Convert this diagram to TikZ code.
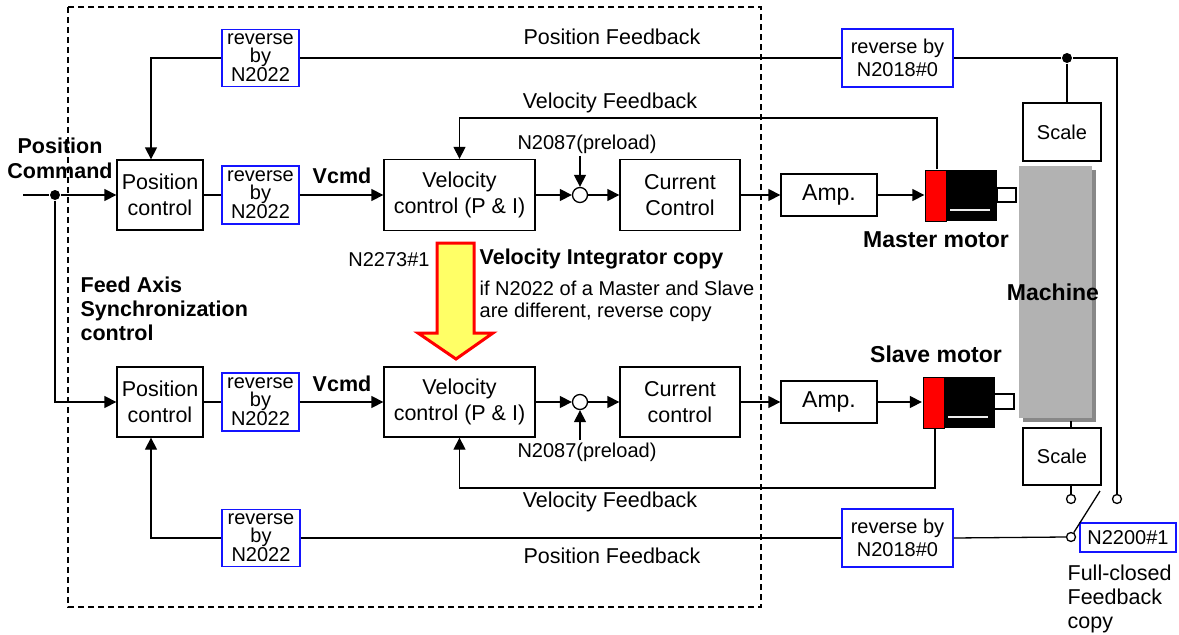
\documentclass[tikz,border=0pt]{standalone}
\usepackage{fontspec}
\setmainfont{Liberation Sans}
\usetikzlibrary{arrows.meta}
\newcommand\dgmain{\fontsize{21.5pt}{26pt}\selectfont}
\newcommand\dgblue{\fontsize{20pt}{18pt}\selectfont}
\newcommand\dgbluew{\fontsize{20pt}{23pt}\selectfont}
\newcommand\dgnote{\fontsize{20pt}{22pt}\selectfont}
\newcommand\dgbold{\fontsize{21.5pt}{24pt}\selectfont\bfseries}
\newcommand\dgbig{\fontsize{23pt}{26pt}\selectfont\bfseries}
\definecolor{boxblue}{RGB}{20,20,255}
\definecolor{machgray}{RGB}{178,178,178}
\definecolor{shadegray}{RGB}{136,136,136}
\definecolor{copyyellow}{RGB}{255,255,102}
\begin{document}
\begin{tikzpicture}[x=1pt,y=-1pt,line width=1.3pt,
  blk/.style={draw, line width=1.3pt, inner sep=0pt, align=center, font=\dgmain, fill=white},
  rev/.style={draw=boxblue, line width=1.5pt, inner sep=0pt, align=center, font=\dgblue, fill=white},
  revw/.style={rev, font=\dgbluew},
  lbl/.style={inner sep=0pt, font=\dgmain},
  arr/.style={-{Triangle[length=12pt,width=12pt]}},
  port/.style={circle, draw, fill=white, line width=1.3pt, minimum size=9pt, inner sep=0pt},
  junction/.style={circle, fill, minimum size=10pt, inner sep=0pt},
  motorbody/.style={fill=black, minimum width=72pt, minimum height=51pt, inner sep=0pt}
]
\useasboundingbox (0,0) rectangle (1179,635);

% controller boundary
\draw[line width=2pt, dash pattern=on 6pt off 4pt] (68,7) rectangle (761,607);

% machine with shadow
\fill[shadegray] (1023,170) rectangle (1096,422);
\fill[machgray] (1019,166) rectangle (1092,418);
\node[font=\dgbig, inner sep=0pt] (mach) at (1053,292) {Machine};

% ---- master axis (upper row) ----
\node[blk, minimum width=86pt, minimum height=70pt] (posU) at (160,195) {Position\\control};
\node[rev, minimum width=77pt, minimum height=58pt] (revU2) at (260.5,195) {reverse\\by\\N2022};
\node[blk, minimum width=151pt, minimum height=71pt] (velU) at (459.5,195) {Velocity\\control (P \& I)};
\node[port, minimum size=15pt] (sumU) at (580,195) {};
\node[blk, minimum width=120pt, minimum height=71pt] (curU) at (680,195) {Current\\Control};
\node[blk, minimum width=96pt, minimum height=42pt, font=\fontsize{23pt}{26pt}\selectfont] (ampU) at (829,195) {Amp.};
\node[motorbody] (motU) at (961,195.5) {};
\draw[line width=1pt, fill=red] (925,170) rectangle (946,221);
\draw[fill=white] (997,188) rectangle (1016,202);
\draw[white!85!gray, line width=1.2pt] (950,210) -- (990,210);
\node[font=\dgbig, inner sep=0pt] (mlbl) at (936,240) {Master motor};

% ---- slave axis (lower row) ----
\node[blk, minimum width=86pt, minimum height=70pt] (posL) at (160,402) {Position\\control};
\node[rev, minimum width=77pt, minimum height=58pt] (revL2) at (260.5,402) {reverse\\by\\N2022};
\node[blk, minimum width=151pt, minimum height=70pt] (velL) at (459.5,402) {Velocity\\control (P \& I)};
\node[port, minimum size=15pt] (sumL) at (580,402) {};
\node[blk, minimum width=120pt, minimum height=70pt] (curL) at (680,402) {Current\\control};
\node[blk, minimum width=96pt, minimum height=42pt, font=\fontsize{23pt}{26pt}\selectfont] (ampL) at (829,402) {Amp.};
\node[motorbody] (motL) at (958.5,402.5) {};
\draw[line width=1pt, fill=red] (923,377) rectangle (944,428);
\draw[fill=white] (994,394) rectangle (1014,409);
\draw[white!85!gray, line width=1.2pt] (948,417) -- (988,417);
\node[font=\dgbig, inner sep=0pt] (slbl) at (936,354) {Slave motor};

% scales and feedback reversal boxes
\node[blk, minimum width=78pt, minimum height=58pt, font=\fontsize{20pt}{24pt}\selectfont] (scaleU) at (1062,132) {Scale};
\node[blk, minimum width=78pt, minimum height=57pt, font=\fontsize{20pt}{24pt}\selectfont] (scaleL) at (1062,456.5) {Scale};
\node[rev, minimum width=77pt, minimum height=57pt] (revU1) at (260.5,58) {reverse\\by\\N2022};
\node[rev, minimum width=78pt, minimum height=57pt] (revL1) at (261,538) {reverse\\by\\N2022};
\node[revw, minimum width=111pt, minimum height=58pt] (nU) at (897.5,58) {reverse by\\N2018\#0};
\node[revw, minimum width=111pt, minimum height=58pt] (nL) at (897.5,538) {reverse by\\N2018\#0};
\node[rev, minimum width=96pt, minimum height=29pt] (n2200) at (1128,537.5) {N2200\#1};

% command input
\coordinate (inS) at (23,195);
\node[junction] (jIn) at (55,195) {};
\draw (inS) -- (jIn);
\draw[arr] (jIn) -- (posU.west);
\draw[arr] (jIn) -- (jIn |- posL.west) -- (posL.west);
\node[font=\dgbold, align=center, inner sep=0pt] (cmd) at (60,158) {Position\\[1pt]Command};

% forward paths
\foreach \r in {U,L}{
  \draw (pos\r.east) -- (rev\r2.west);
  \draw[arr] (rev\r2.east) -- (vel\r.west);
  \draw[arr] (vel\r.east) -- (sum\r.west);
  \draw[arr] (sum\r.east) -- (cur\r.west);
  \draw[arr] (cur\r.east) -- (amp\r.west);
  \draw[arr] (amp\r.east) -- (amp\r.east -| mot\r.west);
}
\node[font=\dgbold, inner sep=0pt] (vcU) at (342,176) {Vcmd};
\node[font=\dgbold, inner sep=0pt] (vcL) at (342,384) {Vcmd};

% preload inputs
\node[font=\dgnote, inner sep=0pt] (plU) at (587,144) {N2087(preload)};
\draw[arr] ([yshift=-2pt]sumU.north |- plU.south) -- (sumU.north);
\node[font=\dgnote, inner sep=0pt] (plL) at (587,452) {N2087(preload)};
\draw[arr] ([yshift=2pt]sumL.south |- plL.north) -- (sumL.south);

% velocity feedback
\coordinate (vfU) at (937,118);
\draw[arr] (vfU |- motU.north) -- (vfU) -- (vfU -| velU.north) -- (velU.north);
\node[lbl] (vftU) at (610,103) {Velocity Feedback};
\coordinate (vfL) at (935,488);
\draw[arr] (vfL |- motL.south) -- (vfL) -- (vfL -| velL.south) -- (velL.south);
\node[lbl] (vftL) at (610,502) {Velocity Feedback};

% switch contacts for full-closed feedback copy
\node[port] (cR) at (1117,499) {};
\node[port] (cS) at (1071,499) {};
\node[port] (cP) at (1071,537) {};
\coordinate (swE) at (1100,491);
\draw (cP.58) -- (swE);
\draw (scaleL.south -| cS) -- (cS.north);
\draw (cS |- scaleL.north) -- ++(0,-6);

% master position feedback
\node[junction] (jF) at (1067,58) {};
\coordinate (fbC) at (1117,58);
\draw (cR.north) -- (fbC) -- (jF) -- (nU.east);
\draw (jF) -- (jF |- scaleU.north);
\draw (nU.west) -- (revU1.east);
\coordinate (fbU) at (151,58);
\draw[arr] (revU1.west) -- (fbU) -- (fbU |- posU.north);
\node[lbl] (pftU) at (612,37) {Position Feedback};

% slave position feedback
\draw (cP.west) -- (nL.east);
\draw (nL.west) -- (revL1.east);
\coordinate (fbL) at (151,538);
\draw[arr] (revL1.west) -- (fbL) -- (fbL |- posL.south);
\node[lbl] (pftL) at (612,556) {Position Feedback};

% velocity integrator copy
\draw[red, line width=3pt, fill=copyyellow, line join=miter]
  (437,243) -- (474,243) -- (474,333) -- (493,333) -- (456,359) -- (418,333) -- (437,333) -- cycle;
\node[font=\dgnote, inner sep=0pt] (n2273) at (389,260) {N2273\#1};
\node[font=\dgbold, inner sep=0pt, anchor=west] (vic) at (479,259) {Velocity Integrator copy};
\node[font=\dgnote, inner sep=0pt, anchor=west, align=left] (vicn) at (479,301) {if N2022 of a Master and Slave\\are different, reverse copy};

% labels
\node[font=\dgbold, inner sep=0pt, anchor=west, align=left] (sync) at (80,309) {Feed Axis\\Synchronization\\control};
\node[font=\dgmain, inner sep=0pt, anchor=west, align=left] (fcc) at (1067,599) {Full-closed\\[-2pt]Feedback\\[-2pt]copy};
\end{tikzpicture}
\end{document}
